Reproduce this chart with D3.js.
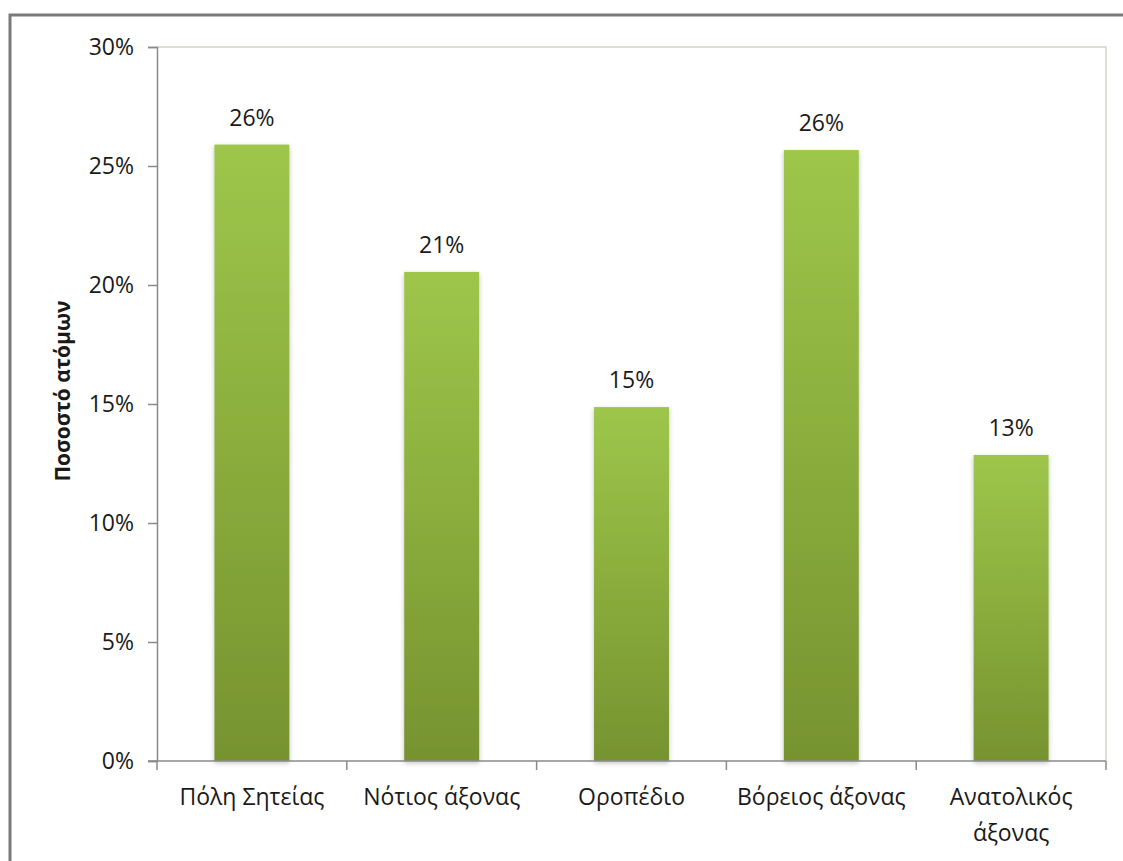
<!DOCTYPE html>
<html>
<head>
<meta charset="utf-8">
<script src="https://cdn.jsdelivr.net/npm/d3@7/dist/d3.min.js"></script>
<style>
  html, body { margin: 0; padding: 0; background: #fff; }
  svg { display: block; }
  text { font-family: "Open Sans", "Noto Sans", sans-serif; fill: #1a1a1a; }
</style>
</head>
<body>
<svg id="chart" width="1123" height="861"></svg>
<script>
// Share of people per area of the Siteia municipality
const categories = ["Πόλη Σητείας", "Νότιος άξονας", "Οροπέδιο", "Βόρειος άξονας", "Ανατολικός άξονας"];
const shares = [0.259, 0.2055, 0.1487, 0.2567, 0.1286];
const yTicks = [0, 0.05, 0.10, 0.15, 0.20, 0.25, 0.30];
const yTitle = "Ποσοστό ατόμων";

const svg = d3.select("#chart");
const W = 1123, H = 861;
const plot = { left: 157, right: 1106, top: 47, bottom: 761 };

// outer frame (only its top and left edges fall inside the page)
svg.append("path")
  .attr("d", `M10,${H + 5} V15 H${W + 5}`)
  .attr("fill", "none")
  .attr("stroke", "#7a7a7a")
  .attr("stroke-width", 3);

const defs = svg.append("defs");
const grad = defs.append("linearGradient")
  .attr("id", "barFill")
  .attr("x1", 0).attr("y1", 0).attr("x2", 0).attr("y2", 1);
grad.append("stop").attr("offset", "0%").attr("stop-color", "#9ec64a");
grad.append("stop").attr("offset", "100%").attr("stop-color", "#76932f");

const shadow = defs.append("filter").attr("id", "barShadow")
  .attr("x", "-20%").attr("y", "-10%").attr("width", "140%").attr("height", "125%");
shadow.append("feGaussianBlur").attr("in", "SourceAlpha").attr("stdDeviation", 2.5).attr("result", "b");
shadow.append("feOffset").attr("in", "b").attr("dy", 2).attr("result", "o");
shadow.append("feComponentTransfer").attr("in", "o").attr("result", "s")
  .append("feFuncA").attr("type", "linear").attr("slope", 0.25);
const merge = shadow.append("feMerge");
merge.append("feMergeNode").attr("in", "s");
merge.append("feMergeNode").attr("in", "SourceGraphic");

const x = d3.scaleBand()
  .domain(categories)
  .range([plot.left, plot.right])
  .paddingInner(0.605)
  .paddingOuter(0.3025);

const y = d3.scaleLinear()
  .domain([0, 0.30])
  .range([plot.bottom, plot.top]);

// plot area frame (top and right)
svg.append("path")
  .attr("d", `M${plot.left},${plot.top} H${plot.right} V${plot.bottom}`)
  .attr("fill", "none")
  .attr("stroke", "#d4d4c8")
  .attr("stroke-width", 1.5);

// bars
svg.append("g").selectAll("rect")
  .data(categories)
  .join("rect")
  .attr("x", d => x(d))
  .attr("width", x.bandwidth())
  .attr("y", (d, i) => y(shares[i]))
  .attr("height", (d, i) => y(0) - y(shares[i]))
  .attr("fill", "url(#barFill)")
  .attr("filter", "url(#barShadow)");

// value labels
const fmt = d3.format(".0%");
svg.append("g").selectAll("text")
  .data(categories)
  .join("text")
  .attr("x", d => x(d) + x.bandwidth() / 2)
  .attr("y", (d, i) => y(shares[i]) - 19)
  .attr("text-anchor", "middle")
  .attr("font-size", 23)
  .text((d, i) => fmt(shares[i]));

// y axis
const yAxis = svg.append("g")
  .attr("transform", `translate(${plot.left},0)`)
  .call(d3.axisLeft(y).tickValues(yTicks).tickFormat(d3.format(".0%")).tickSize(9).tickPadding(14));
yAxis.select(".domain").attr("stroke", "#8a8a8a").attr("stroke-width", 1.5);
yAxis.selectAll(".tick line").attr("stroke", "#8a8a8a").attr("stroke-width", 1.5);
yAxis.selectAll(".tick text")
  .attr("font-size", 23)
  .attr("font-family", "\"Open Sans\", sans-serif")
  .attr("fill", "#1a1a1a");

// x axis: baseline, ticks at category boundaries, labels under each bar
const xAxis = svg.append("g")
  .attr("transform", `translate(0,${plot.bottom})`)
  .call(d3.axisBottom(x).tickSize(0).tickPadding(0).tickFormat(""));
xAxis.select(".domain").remove();
xAxis.append("line")
  .attr("x1", plot.left - 9).attr("x2", plot.right)
  .attr("stroke", "#8a8a8a").attr("stroke-width", 1.5);
const bounds = d3.range(categories.length + 1).map(i => plot.left + i * x.step());
xAxis.selectAll(".bound")
  .data(bounds)
  .join("line")
  .attr("class", "bound")
  .attr("x1", d => d).attr("x2", d => d)
  .attr("y1", 0).attr("y2", 9)
  .attr("stroke", "#8a8a8a").attr("stroke-width", 1.5);

xAxis.selectAll(".tick").each(function (d) {
  const g = d3.select(this);
  g.select("text").remove();
  const words = d === "Ανατολικός άξονας" ? ["Ανατολικός", "άξονας"] : [d];
  const t = g.append("text")
    .attr("text-anchor", "middle")
    .attr("font-size", 23)
    .attr("fill", "#1a1a1a");
  words.forEach((w, i) => {
    t.append("tspan").attr("x", 0).attr("y", 44 + i * 36).text(w);
  });
});

// y axis title
svg.append("text")
  .attr("transform", `translate(70,391) rotate(-90)`)
  .attr("text-anchor", "middle")
  .attr("font-size", 21)
  .attr("font-weight", "bold")
  .text(yTitle);
</script>
</body>
</html>
